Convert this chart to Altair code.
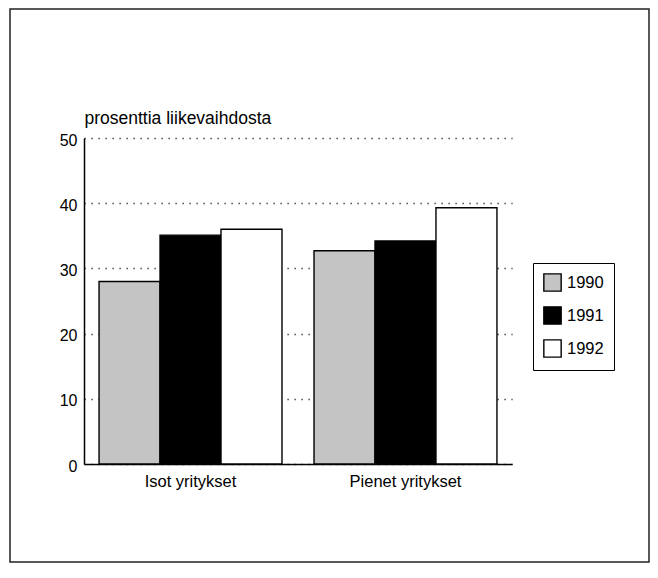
import altair as alt
import pandas as pd

categories = ["Isot yritykset", "Pienet yritykset"]
years = ["1990", "1991", "1992"]
values_1990 = [28.0, 32.7]
values_1991 = [35.1, 34.2]
values_1992 = [36.0, 39.3]
y_ticks = [0, 10, 20, 30, 40, 50]
y_title = "prosenttia liikevaihdosta"
colors = ["#c4c4c4", "#000000", "#ffffff"]

rows = []
for yr, vals in zip(years, [values_1990, values_1991, values_1992]):
    for c, v in zip(categories, vals):
        rows.append({"group": c, "year": yr, "value": v})
df = pd.DataFrame(rows)

FONT = "Liberation Sans"

bars = alt.Chart(df).mark_bar(stroke="black", strokeWidth=1.4, opacity=1).encode(
    x=alt.X("group:N", sort=categories,
            scale=alt.Scale(paddingInner=0.149, paddingOuter=0.07),
            axis=alt.Axis(title=None, labelAngle=0, ticks=False, tickSize=0,
                          labelPadding=9, labelFontSize=16.5, labelFont=FONT,
                          labelColor="black", domainColor="black", domainWidth=1.5,
                          grid=False)),
    xOffset=alt.XOffset("year:N", sort=years,
                        scale=alt.Scale(paddingInner=0, paddingOuter=0)),
    y=alt.Y("value:Q", scale=alt.Scale(domain=[0, 50], nice=False),
            axis=alt.Axis(values=y_ticks, title=y_title, titleAngle=0, titleX=0, titleY=-15,
                          titleAlign="left", titleBaseline="alphabetic",
                          titleFontWeight="normal", titleFontSize=17.5, titleFont=FONT,
                          titleColor="black",
                          ticks=False, tickSize=0, labelPadding=7, labelFontSize=16,
                          labelFont=FONT, labelColor="black", labelOffset=2,
                          domainColor="black", domainWidth=1.5,
                          grid=True, gridColor="#222222", gridDash=[1.2, 5.8], gridWidth=1.3)),
    color=alt.Color("year:N", sort=years,
                    scale=alt.Scale(domain=years, range=colors),
                    legend=alt.Legend(title=None, orient="none", legendX=449, legendY=125,
                                      strokeColor="black", padding=10, rowPadding=10,
                                      symbolType="square", symbolSize=300,
                                      symbolStrokeColor="black", symbolStrokeWidth=1.4,
                                      symbolOpacity=1, labelOffset=5,
                                      labelFontSize=16.5, labelFont=FONT,
                                      labelColor="black")),
)

frame = alt.Chart(pd.DataFrame({"a": [0]})).mark_rect(
    fill="white", fillOpacity=0, stroke="#222222", strokeWidth=1.5
).encode(
    x=alt.value(-74), x2=alt.value(565), y=alt.value(-129), y2=alt.value(424)
)

chart = alt.layer(frame, bars).properties(
    width=428, height=326,
    autosize=alt.AutoSizeParams(type="none"),
    padding={"left": 76, "top": 130, "right": 138, "bottom": 100},
).configure(font=FONT).configure_view(stroke=None, strokeWidth=0)

chart.save("out.html", embed_options={"renderer": "svg", "actions": False})
